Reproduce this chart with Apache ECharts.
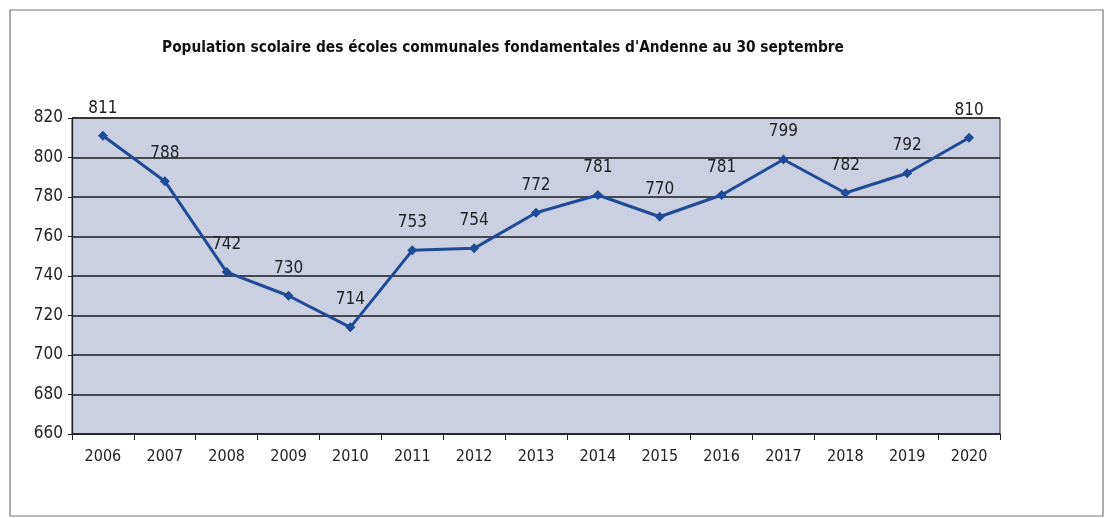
<!DOCTYPE html>
<html>
<head>
<meta charset="utf-8">
<script src="https://cdn.jsdelivr.net/npm/echarts@6/dist/echarts.min.js"></script>
<style>
  html, body { margin: 0; padding: 0; background: #fff; }
  #chart { width: 1112px; height: 518px; }
</style>
</head>
<body>
<div id="chart"></div>
<script>
// années scolaires
const years = ['2006', '2007', '2008', '2009', '2010', '2011', '2012', '2013', '2014', '2015', '2016', '2017', '2018', '2019', '2020']
// élèves au 30 septembre
const pupils = [811, 788, 742, 730, 714, 753, 754, 772, 781, 770, 781, 799, 782, 792, 810]
const yTicks = [660, 680, 700, 720, 740, 760, 780, 800, 820]

const font = '"DejaVu Sans Condensed", "Liberation Sans Narrow", sans-serif'
const chart = echarts.init(document.getElementById('chart'))

chart.setOption({
  backgroundColor: '#fff',
  animation: false,
  title: {
    text: "Population scolaire des écoles communales fondamentales d'Andenne au 30 septembre",
    left: 498,
    textAlign: 'center',
    top: 36,
    textStyle: { fontFamily: font, fontSize: 15.3, fontWeight: 'bold', color: '#111' }
  },
  graphic: [{
    type: 'rect',
    shape: { x: 10, y: 10, width: 1093, height: 506 },
    style: { fill: 'none', stroke: '#777', lineWidth: 1.2 },
    silent: true
  }],
  grid: {
    left: 72, right: 112, top: 118, bottom: 84,
    show: true,
    backgroundColor: '#cad0e2',
    borderColor: '#333',
    borderWidth: 1
  },
  xAxis: {
    type: 'category',
    data: years,
    boundaryGap: true,
    axisLine: { lineStyle: { color: '#222', width: 1.5 } },
    axisTick: { show: true, length: 6, lineStyle: { color: '#222' } },
    axisLabel: { fontFamily: font, fontSize: 16, color: '#222', margin: 15 }
  },
  yAxis: {
    type: 'value',
    min: yTicks[0],
    max: yTicks[yTicks.length - 1],
    interval: 20,
    axisLine: { show: true, lineStyle: { color: '#222', width: 1.2 } },
    axisTick: { show: true, length: 4, lineStyle: { color: '#222' } },
    axisLabel: { fontFamily: font, fontSize: 17, color: '#222', margin: 9 },
    splitLine: { lineStyle: { color: '#1a1a1a', width: 1.5 } }
  },
  series: [{
    type: 'line',
    data: pupils,
    symbol: 'diamond',
    symbolSize: 10,
    lineStyle: { color: '#1f4a96', width: 3 },
    itemStyle: { color: '#1f4a96' },
    label: {
      show: true,
      position: 'top',
      distance: 14,
      fontFamily: font,
      fontSize: 17,
      color: '#222'
    }
  }]
})
</script>
</body>
</html>
